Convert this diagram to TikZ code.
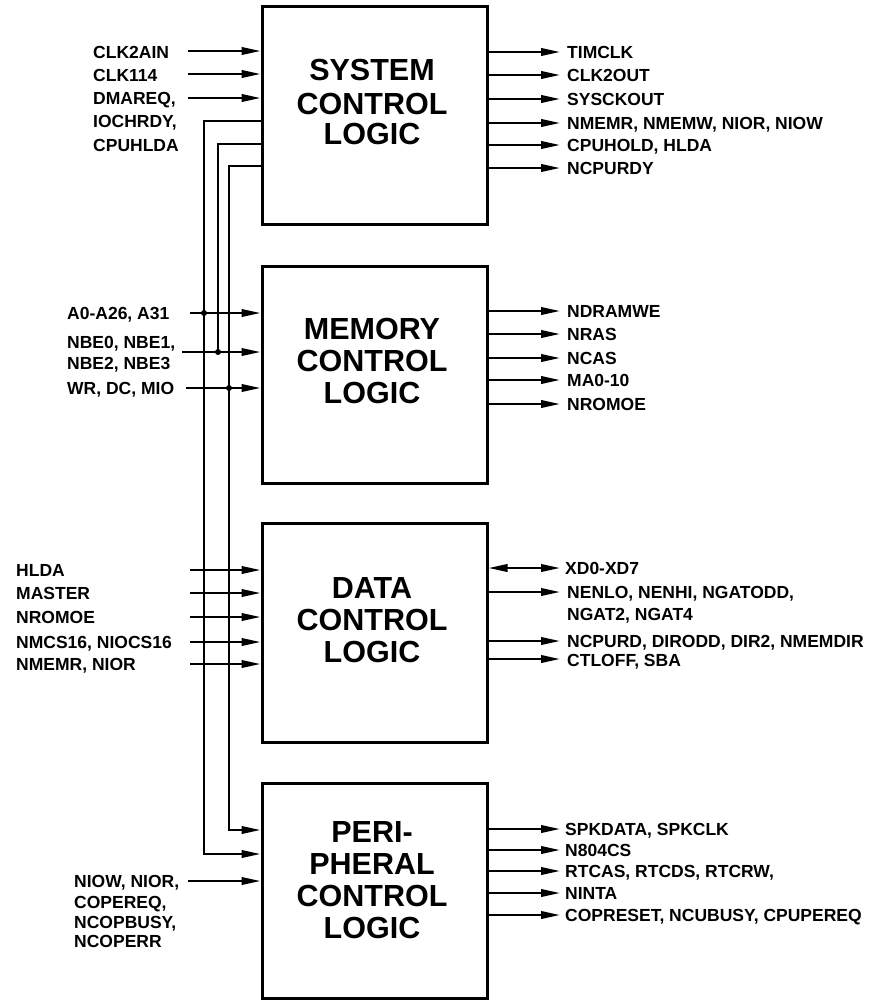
\documentclass[tikz,border=0pt]{standalone}
\usepackage{fontspec}
\setmainfont{Liberation Sans}
\usetikzlibrary{arrows.meta}
\begin{document}
\begin{tikzpicture}[x=1pt,y=-1pt,
  blk/.style={draw, line width=3pt, minimum width=225pt, inner sep=0pt},
  ttl/.style={anchor=base, inner sep=0pt, font=\fontsize{30.5}{32}\selectfont\bfseries},
  lbl/.style={anchor=base west, inner sep=0pt, font=\fontsize{17.5}{20}\selectfont\bfseries},
  wire/.style={line width=2.2pt},
  arr/.style={wire, -{Triangle[length=19pt,width=7.5pt]}},
  darr/.style={wire, {Triangle[length=19pt,width=7.5pt]}-{Triangle[length=19pt,width=7.5pt]}},
  jdot/.style={circle, fill, inner sep=0pt, minimum size=6pt}
]
\useasboundingbox (0,0) rectangle (889,1002);

% ---------- blocks ----------
\node[blk, minimum height=218pt] (sys) at (374.5,115) {};
\node[blk, minimum height=217pt] (mem) at (374.5,374.5) {};
\node[blk, minimum height=219pt] (dat) at (374.5,632.5) {};
\node[blk, minimum height=215pt] (per) at (374.5,890.5) {};

\node[ttl] (sysA) at (372,80.5) {SYSTEM};
\node[ttl] (sysB) at (372,114) {CONTROL};
\node[ttl] (sysC) at (372,144.5) {LOGIC};

\node[ttl] (memA) at (372,339.5) {MEMORY};
\node[ttl] (memB) at (372,371.5) {CONTROL};
\node[ttl] (memC) at (372,403.5) {LOGIC};

\node[ttl] (datA) at (372,598.5) {DATA};
\node[ttl] (datB) at (372,630.5) {CONTROL};
\node[ttl] (datC) at (372,662.5) {LOGIC};

\node[ttl] (perA) at (372,842.5) {PERI-};
\node[ttl] (perB) at (372,874.5) {PHERAL};
\node[ttl] (perC) at (372,906.5) {CONTROL};
\node[ttl] (perD) at (372,938.5) {LOGIC};

% ---------- system inputs ----------
\node[lbl] (clk2ain) at (93,58) {CLK2AIN};
\node[lbl] (clk114) at (93,81) {CLK114};
\node[lbl] (dmareq) at (93,104) {DMAREQ,};
\node[lbl] (iochrdy) at (93,127) {IOCHRDY,};
\node[lbl] (cpuhlda) at (93,151) {CPUHLDA};
\coordinate (si1) at (188,51);
\coordinate (si2) at (188,74);
\coordinate (si3) at (188,98);
\draw[arr] (si1) -- (si1 -| sys.west);
\draw[arr] (si2) -- (si2 -| sys.west);
\draw[arr] (si3) -- (si3 -| sys.west);

% ---------- system outputs ----------
\foreach \y/\t/\n in {52/TIMCLK/so1, 75/CLK2OUT/so2, 99/SYSCKOUT/so3,
  123/{NMEMR, NMEMW, NIOR, NIOW}/so4, 145/{CPUHOLD, HLDA}/so5, 168/NCPURDY/so6}{
  \coordinate (\n) at (560,\y);
  \draw[arr] (sys.east |- \n) -- (\n);
  \node[lbl] (\n-t) at (567,\y+6.3) {\t};
}

% ---------- feedback wires from system block ----------
\coordinate (t1) at (204,121);
\coordinate (b1) at (204,854);
\coordinate (t2) at (218,144);
\coordinate (b2) at (218,352);
\coordinate (t3) at (229,166);
\coordinate (b3) at (229,830);
\draw[arr] (sys.west |- t1) -- (t1) -- (b1) -- (b1 -| per.west);
\draw[wire] (sys.west |- t2) -- (t2) -- (b2);
\draw[arr] (sys.west |- t3) -- (t3) -- (b3) -- (b3 -| per.west);

% ---------- memory inputs ----------
\node[lbl] (a0) at (67,319.3) {A0-A26, A31};
\node[lbl] (nbe0) at (67,348.3) {NBE0, NBE1,};
\node[lbl] (nbe2) at (67,369.3) {NBE2, NBE3};
\node[lbl] (wr) at (67,394.3) {WR, DC, MIO};
\coordinate (mi1) at (190,313);
\coordinate (mi2) at (182,352);
\coordinate (mi3) at (186,388);
\draw[arr] (mi1) -- (mi1 -| mem.west);
\draw[arr] (mi2) -- (mi2 -| mem.west);
\draw[arr] (mi3) -- (mi3 -| mem.west);
\node[jdot] (d1) at (204,313) {};
\node[jdot] (d2) at (218,352) {};
\node[jdot] (d3) at (229,388) {};

% ---------- memory outputs ----------
\foreach \y/\t/\n in {311/NDRAMWE/mo1, 334/NRAS/mo2, 358/NCAS/mo3,
  380/MA0-10/mo4, 404/NROMOE/mo5}{
  \coordinate (\n) at (560,\y);
  \draw[arr] (mem.east |- \n) -- (\n);
  \node[lbl] (\n-t) at (567,\y+6.3) {\t};
}

% ---------- data inputs ----------
\foreach \y/\t/\n in {570/HLDA/di1, 593/MASTER/di2, 617/NROMOE/di3,
  642/{NMCS16, NIOCS16}/di4, 664/{NMEMR, NIOR}/di5}{
  \node[lbl] (\n-t) at (16,\y+6.3) {\t};
  \coordinate (\n) at (190,\y);
  \draw[arr] (\n) -- (\n -| dat.west);
}

% ---------- data outputs ----------
\coordinate (do1) at (560,568);
\draw[darr] (dat.east |- do1) -- (do1);
\node[lbl] (do1-t) at (565,574.3) {XD0-XD7};
\coordinate (do2) at (560,592);
\draw[arr] (dat.east |- do2) -- (do2);
\node[lbl] (do2-t) at (567,598.3) {NENLO, NENHI, NGATODD,};
\node[lbl] (do2-u) at (567,620.3) {NGAT2, NGAT4};
\coordinate (do3) at (560,641);
\draw[arr] (dat.east |- do3) -- (do3);
\node[lbl] (do3-t) at (567,647.3) {NCPURD, DIRODD, DIR2, NMEMDIR};
\coordinate (do4) at (560,659);
\draw[arr] (dat.east |- do4) -- (do4);
\node[lbl] (do4-t) at (567,666) {CTLOFF, SBA};

% ---------- peripheral inputs ----------
\node[lbl] (niow) at (74,887.3) {NIOW, NIOR,};
\node[lbl] (copereq) at (74,908.3) {COPEREQ,};
\node[lbl] (ncopbusy) at (74,928.3) {NCOPBUSY,};
\node[lbl] (ncoperr) at (74,947.3) {NCOPERR};
\coordinate (pi1) at (188,881);
\draw[arr] (pi1) -- (pi1 -| per.west);

% ---------- peripheral outputs ----------
\foreach \y/\t/\n in {829/{SPKDATA, SPKCLK}/po1, 850/N804CS/po2,
  871/{RTCAS, RTCDS, RTCRW,}/po3, 893/NINTA/po4,
  915/{COPRESET, NCUBUSY, CPUPEREQ}/po5}{
  \coordinate (\n) at (560,\y);
  \draw[arr] (per.east |- \n) -- (\n);
  \node[lbl] (\n-t) at (565,\y+6.3) {\t};
}
\end{tikzpicture}
\end{document}
